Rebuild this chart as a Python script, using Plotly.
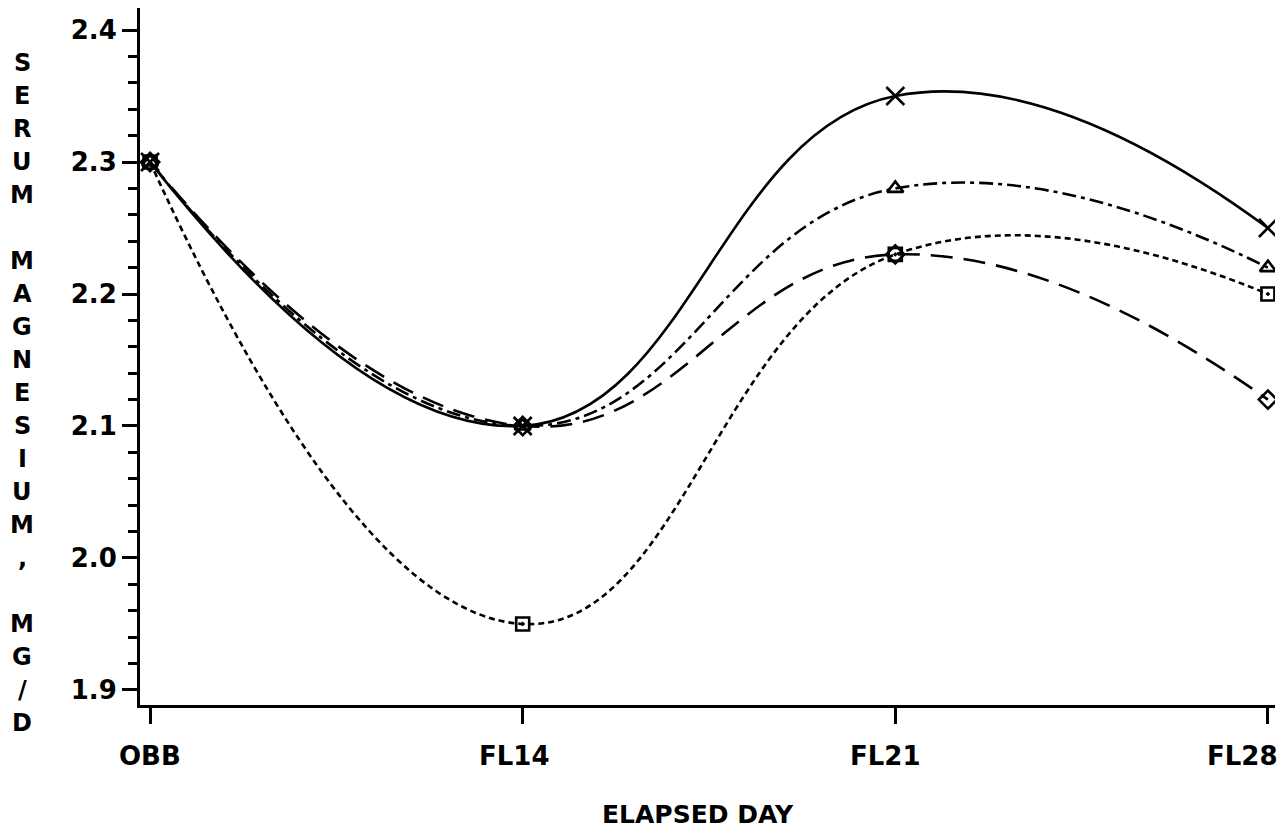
import plotly.graph_objects as go

# ---- data ----
days = ["OBB", "FL14", "FL21", "FL28"]
mg_x = [2.30, 2.10, 2.35, 2.25]        # solid line, X markers
mg_tri = [2.30, 2.10, 2.28, 2.22]      # dash-dot, triangles
mg_sq = [2.30, 1.95, 2.23, 2.20]       # short dash, squares
mg_dia = [2.30, 2.10, 2.23, 2.12]      # long dash, diamonds

y_tickvals = [1.9, 2.0, 2.1, 2.2, 2.3, 2.4]
y_ticktext = ["1.9", "2.0", "2.1", "2.2", "2.3", "2.4"]
x_title = "ELAPSED DAY"
y_title = "SERUM MAGNESIUM, MG/D"

# ---- page geometry ----
W, H = 1281, 839
L, R, T, B = 140, 6, 8, 134
PW, PH = W - L - R, H - T - B

def px2paper(px, py):
    return (px - L) / PW, (H - B - py) / PH

FONT = "DejaVu Sans"

fig = go.Figure()

styles = [
    (mg_x, "solid", "x-thin-open", 18),
    (mg_tri, "14px,5px,4px,5px", "triangle-up-open", 14),
    (mg_sq, "6px,4px", "square-open-dot", 13),
    (mg_dia, "22px,11px", "diamond-open", 14),
]
for vals, dash, sym, msize in styles:
    fig.add_trace(go.Scatter(
        x=days, y=vals, mode="lines+markers",
        line=dict(color="black", width=2.6, dash=dash, shape="spline", smoothing=1.3),
        marker=dict(symbol=sym, size=msize, color="black",
                    line=dict(color="black", width=2.6)),
        showlegend=False,
    ))

fig.update_layout(
    width=W, height=H, autosize=False,
    margin=dict(l=L, r=R, t=T, b=B, pad=0),
    paper_bgcolor="white", plot_bgcolor="white",
    font=dict(family=FONT, color="black"),
    showlegend=False,
)

fig.update_xaxes(
    type="category", categoryorder="array", categoryarray=days,
    range=[-0.027, 3.019], automargin=False,
    showline=True, linecolor="black", linewidth=3,
    ticks="outside", ticklen=16, tickwidth=3, tickcolor="black",
    showgrid=False, zeroline=False, showticklabels=False,
)

fig.update_yaxes(
    range=[1.8886, 2.4167], automargin=False,
    tickmode="array", tickvals=y_tickvals, ticktext=y_ticktext,
    showline=True, linecolor="black", linewidth=3,
    ticks="outside", ticklen=15, tickwidth=3, tickcolor="black",
    minor=dict(tickmode="linear", tick0=1.9, dtick=0.02, ticks="outside",
               ticklen=9, tickwidth=3, tickcolor="black", showgrid=False),
    showgrid=False, zeroline=False,
    tickfont=dict(family=FONT, size=26, color="black", weight="bold"),
)

# x tick labels (FL28 sits left of its tick, as in the original plot)
label_shift = [0, -8, -10, -25]
_, label_y = px2paper(0, 756)
for d, sh in zip(days, label_shift):
    fig.add_annotation(
        x=d, y=label_y, xref="x", yref="paper", text=d, showarrow=False,
        xanchor="center", yanchor="middle", xshift=sh,
        font=dict(family=FONT, size=26, color="black", weight="bold"),
    )

# vertical stacked y title, one character per row
row0, pitch = 63, 33
for i, ch in enumerate(y_title):
    if ch == " ":
        continue
    ax, ay = px2paper(22, row0 + i * pitch)
    fig.add_annotation(
        x=ax, y=ay, xref="paper", yref="paper", text=ch, showarrow=False,
        xanchor="center", yanchor="middle",
        font=dict(family=FONT, size=24, color="black", weight="bold"),
    )

tx, ty = px2paper(698, 815)
fig.add_annotation(
    x=tx, y=ty, xref="paper", yref="paper", text=x_title, showarrow=False,
    xanchor="center", yanchor="middle",
    font=dict(family=FONT, size=25, color="black", weight="bold"),
)

fig.write_html("out.html")
